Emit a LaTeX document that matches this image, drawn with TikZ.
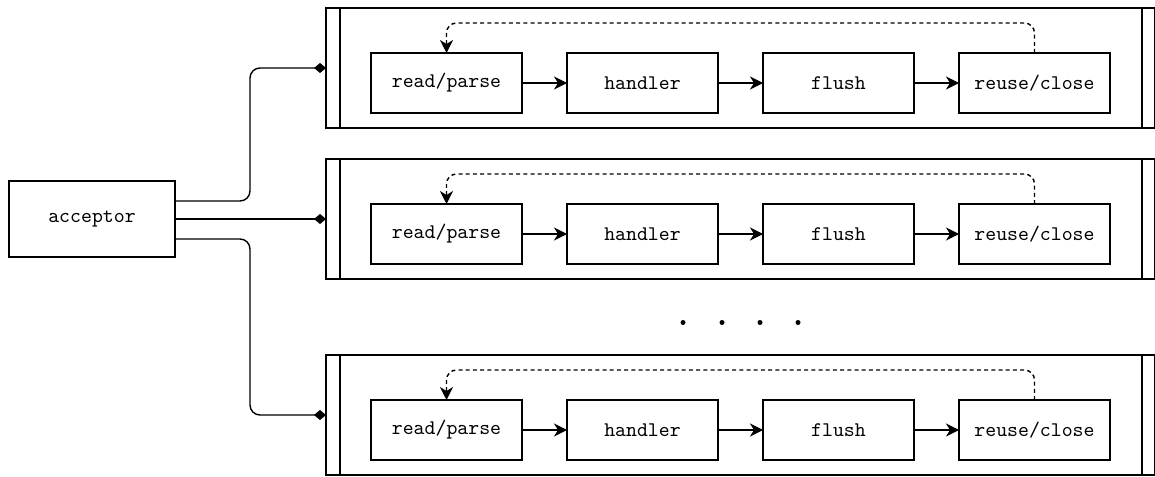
\documentclass[tikz,border=0pt]{standalone}
\usetikzlibrary{arrows.meta,calc}
\begin{document}
\begin{tikzpicture}[x=0.5pt,y=-0.5pt,
  line width=0.7pt,
  lbl/.style={font=\ttfamily\fontsize{10.4}{12}\selectfont},
  box/.style={draw, rectangle, lbl, minimum width=75.5pt, minimum height=30pt,
              inner sep=0pt, outer sep=0pt},
  lane/.style={draw, rectangle, minimum width=414.5pt, minimum height=60pt,
               inner sep=0pt, outer sep=0pt},
  flow/.style={-{Stealth[length=6.5pt,width=6.5pt,inset=2pt]}},
  loop/.style={flow, dash pattern=on 2pt off 1.6pt, rounded corners=5pt},
  link/.style={-{Diamond[length=6pt,width=5pt]}, rounded corners=5pt}
]
\useasboundingbox (0,0) rectangle (1155,476);

% acceptor
\node[box, minimum width=83pt, minimum height=38pt] (acc) at (92,219) {acceptor};

% worker lanes, each with its own processing pipeline
\foreach \i/\y in {1/68, 2/219, 3/415} {
  \node[lane] (lane\i) at (740.5,\y) {};
  \draw ([xshift=7pt]lane\i.north west) -- ([xshift=7pt]lane\i.south west);
  \draw ([xshift=-6.5pt]lane\i.north east) -- ([xshift=-6.5pt]lane\i.south east);
  \node[box] (rp\i) at (446.5,\y+15) {read/parse};
  \node[box] (hd\i) at (642.5,\y+15) {handler};
  \node[box] (fl\i) at (838.5,\y+15) {flush};
  \node[box] (rc\i) at (1034.5,\y+15) {reuse/close};
  \draw[flow] (rp\i) -- (hd\i);
  \draw[flow] (hd\i) -- (fl\i);
  \draw[flow] (fl\i) -- (rc\i);
  \draw[loop] (rc\i.north) -- ++(0,-30) -| (rp\i.north);
}

% acceptor to lanes
\draw[link] ($(acc.east)+(0,-18)$) -| ($(lane1.west)+(-76,0)$) -- (lane1.west);
\draw[link] (acc.east) -- (lane2.west);
\draw[link] ($(acc.east)+(0,20)$) -| ($(lane3.west)+(-76,0)$) -- (lane3.west);

% more lanes
\foreach \x in {683,722,760,798}
  \fill (\x,322.5) circle (1.25pt);
\end{tikzpicture}
\end{document}
